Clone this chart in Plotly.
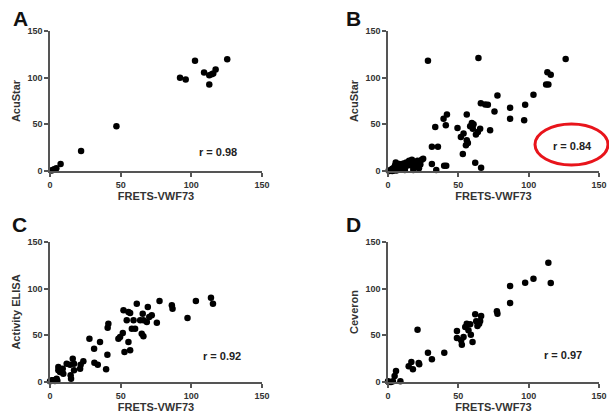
import plotly.graph_objects as go

# ---- data ----
a_x = [1, 2, 3, 4.5, 7.5, 22, 47, 92, 96, 102.6, 109, 112.7, 112.7, 114.4, 115.5, 117.2, 125.4]
a_y = [0.5, 1, 2, 3, 7.5, 21.5, 48, 100, 98, 118, 105.5, 102.6, 92.7, 103.7, 104.4, 108.7, 119.7]

b_x = [28.4, 64.3, 126.3, 113.3, 115.7, 112.4, 114, 103.4, 77.8, 66, 69.1, 71, 75.7, 86.8, 97.5,
       86.8, 96.8, 72.6, 65.5, 63.9, 62.5, 59.6, 60.8, 58.4, 60.3, 56, 49.4, 51.8, 53.7, 56, 56.8,
       55.4, 53.2, 41.9, 39.5, 41.1, 33.6, 31.2, 35.5, 31.2, 34.3, 39.9, 41.4, 62, 66.2,
       0.5, 1.5, 2.5, 3, 4, 4.5, 5, 5.5, 6, 7, 8, 9, 10, 11, 12, 13, 14, 15, 16, 17, 18, 19, 20,
       21, 22, 23, 24, 25, 18, 12, 6, 3, 1]
b_y = [118, 121, 119.9, 105.7, 103.2, 92.6, 92.6, 81.6, 80.9, 72.7, 71.3, 71, 63.8, 67.7, 70.9,
       56, 54.3, 43.6, 45.4, 41.8, 39, 51.4, 50, 47.9, 45.4, 60.6, 46.1, 36.5, 40.1, 33, 30.1,
       27.7, 18.1, 60.6, 56, 48.9, 47.2, 25.9, 25.9, 7.4, 1, 5.7, 5.7, 8.9, 3.5,
       0.5, 0.3, 1, 2.5, 0.5, 4, 6, 9, 2, 5, 7.5, 3, 6, 8, 4, 9, 6, 11, 7, 12, 4, 9, 6,
       11, 3, 7, 12, 13, 1, 1, 0.5, 0, 0]

c_x = [113.9, 115.3, 103.2, 97.3, 77.5, 86.2, 86.7, 69.2, 61.4, 72, 70.2, 75.6, 65.6, 66.1, 63.8,
       68.5, 64.9, 66.1, 60.2, 57.9, 59.1, 55.5, 56.7, 52, 54.3, 51.5, 49.6, 48.4, 55.5, 52.7, 56.7,
       41.3, 40.8, 40.6, 39.7, 35.4, 27.9, 31.2, 31.4, 33.8, 23.6, 21.7, 21.3, 16.1, 17, 14.2, 17,
       14.6, 14.9, 11.8, 9, 5.9, 7.1, 9.4, 5.9, 4.7, 2.4, 0, 1.2, 3.5, 5.2]
c_y = [90.4, 83.9, 86.8, 68.6, 86.8, 82.1, 78.6, 80.4, 83.9, 71.4, 69.6, 63.6, 73.2, 66.1, 66.1,
       64.3, 51.8, 48.9, 57.1, 57.1, 66.1, 75, 74, 76.8, 66.1, 52.5, 48.2, 46.4, 42.9, 32.1, 33.9,
       62.5, 58.2, 29.3, 13.6, 42.9, 46.4, 35.7, 20.7, 18.6, 22.1, 18.6, 14.3, 25, 19.6, 18.6, 12.5,
       7.1, 3.6, 19.6, 14.3, 16.1, 10.7, 8.9, 12.5, 3.6, 1.8, 0.7, 1.8, 1.1, 1.4]

d_x = [114, 115.7, 103.4, 97.5, 86.8, 86.8, 77.4, 77.8, 62, 66.2, 65.5, 64.8, 63.6, 62.7, 58.4,
       56, 57.2, 58.9, 60.1, 54.9, 53.7, 52, 49, 49, 52.5, 21, 40, 28.4, 31.2, 21.8, 22.2, 16.6,
       14.7, 17.7, 5.7, 4.7, 8.8, 0.5, 2.1, 3.5, 0]
d_y = [127.9, 106.1, 110.7, 106.4, 102.9, 84.6, 75.7, 73.2, 72.5, 70.7, 65.4, 62.5, 60, 65, 61.8,
       62.5, 55.4, 50.7, 42.9, 58.9, 48.2, 44.6, 54.6, 47.1, 40, 56.1, 31.4, 31.4, 24.3, 20.4, 18.9,
       21.4, 16.8, 13.6, 11.8, 6.4, 0.7, 0, 0, 0.7, 0.7]

panels = [
    ("A", "AcuStar", "r = 0.98", a_x, a_y, (119, 20)),
    ("B", "AcuStar", "r = 0.84", b_x, b_y, (131.5, 26.6)),
    ("C", "Activity ELISA", "r = 0.92", c_x, c_y, (121.5, 27.9)),
    ("D", "Ceveron", "r = 0.97", d_x, d_y, (124.6, 29.4)),
]
x_title = "FRETS-VWF73"
ticks = [0, 50, 100, 150]

W, H = 609, 415
FONT = "Liberation Sans, Arial, sans-serif"
xdom = [(50 / W, 262 / W), (388 / W, 599 / W)]
ydom = [(1 - 171 / H, 1 - 31 / H), (1 - 382 / H, 1 - 242 / H)]
letter_pos = [(20, 19), (353, 19), (19, 224), (353, 224)]

fig = go.Figure()
layout = dict(width=W, height=H, margin=dict(l=0, r=0, t=0, b=0, autoexpand=False),
              paper_bgcolor="white", plot_bgcolor="white", showlegend=False,
              annotations=[], shapes=[])

for i, (letter, ytitle, rtxt, xs, ys, rpos) in enumerate(panels):
    col = i % 2
    row = i // 2
    n = i + 1
    xa = "x" if n == 1 else f"x{n}"
    ya = "y" if n == 1 else f"y{n}"
    fig.add_trace(go.Scatter(x=xs, y=ys, mode="markers", xaxis=xa, yaxis=ya,
                             marker=dict(color="black", size=6.5), cliponaxis=False))
    axstyle = dict(range=[0, 150], tickvals=ticks, showgrid=False, zeroline=False,
                   showline=True, linecolor="#555", linewidth=1.5, automargin=False,
                   ticks="outside", ticklen=4, tickwidth=1.5, tickcolor="#555",
                   tickfont=dict(family=FONT, size=9, color="#333", weight="bold"))
    layout[f"xaxis{'' if n == 1 else n}"] = dict(
        axstyle, domain=list(xdom[col]), anchor=ya,
        title=dict(text=x_title, standoff=3,
                   font=dict(family=FONT, size=11, color="#333", weight="bold")))
    layout[f"yaxis{'' if n == 1 else n}"] = dict(
        axstyle, domain=list(ydom[row]), anchor=xa,
        title=dict(text=ytitle, standoff=5,
                   font=dict(family=FONT, size=11, color="#333", weight="bold")))
    layout["annotations"].append(dict(
        x=rpos[0], y=rpos[1], xref=xa, yref=ya, text=rtxt, showarrow=False,
        xanchor="center", yanchor="middle",
        font=dict(family=FONT, size=11, color="#222", weight="bold")))
    lx, ly = letter_pos[i]
    layout["annotations"].append(dict(
        x=lx / W, y=1 - ly / H, xref="paper", yref="paper", text=letter, showarrow=False,
        xanchor="center", yanchor="middle",
        font=dict(family=FONT, size=21, color="#111", weight="bold")))

layout["shapes"].append(dict(type="circle", xref="paper", yref="paper",
                             x0=535 / W, x1=608 / W, y0=1 - 165 / H, y1=1 - 124 / H,
                             line=dict(color="#e8141b", width=3)))

fig.update_layout(**layout)
fig.write_html("out.html", config={"displayModeBar": False},
               post_script="document.body.style.margin='0px';document.body.style.overflow='hidden';")
